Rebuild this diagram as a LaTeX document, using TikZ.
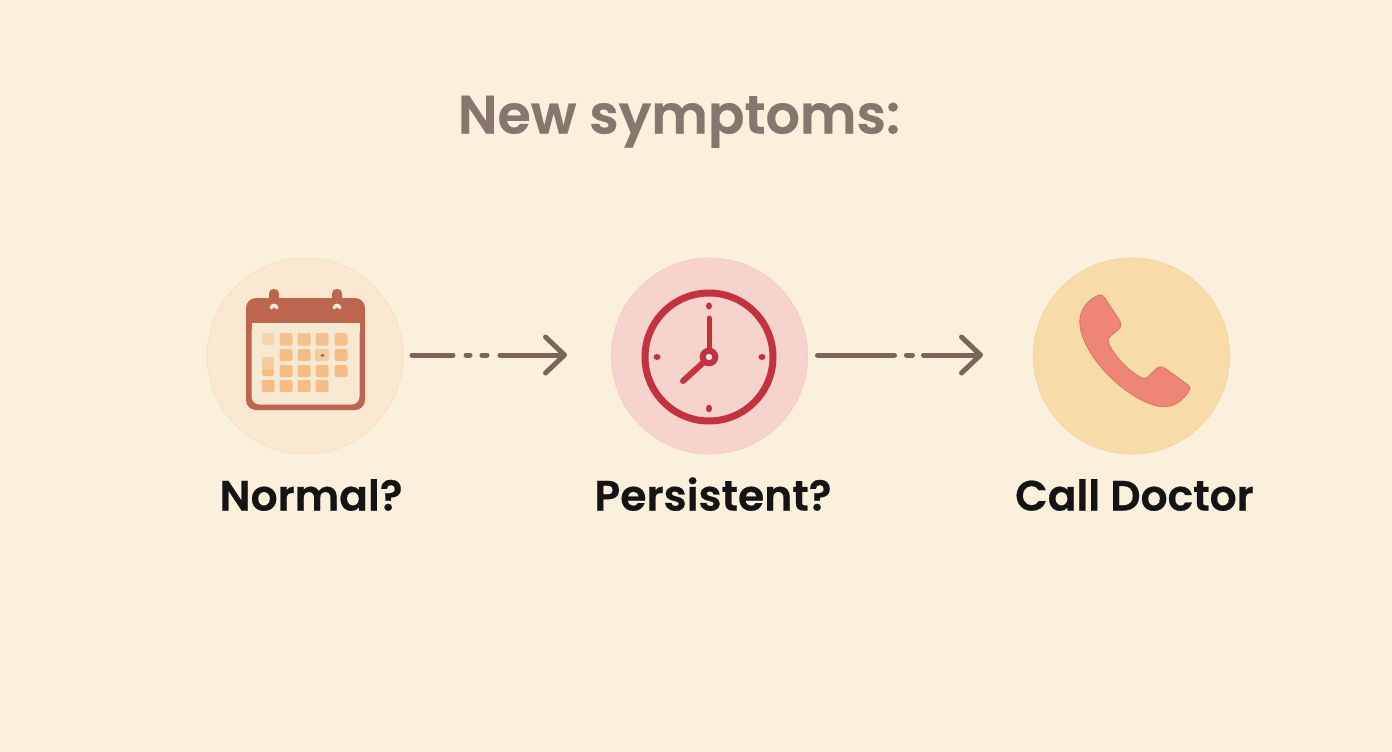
\documentclass[tikz,border=0pt]{standalone}
\usepackage{fontspec}
\setmainfont{Poppins}
\newfontfamily\semifont[FakeBold=0.5]{Poppins SemiBold}
\usetikzlibrary{arrows.meta}
\definecolor{bgc}{HTML}{FAF0DB}
\definecolor{cA}{HTML}{F9E8CF}
\definecolor{cAe}{HTML}{F6E3C6}
\definecolor{cB}{HTML}{F6D3CC}
\definecolor{cBe}{HTML}{F3CFC4}
\definecolor{cC}{HTML}{F7DBA8}
\definecolor{cCe}{HTML}{F4D6A0}
\definecolor{cal}{HTML}{BC6650}
\definecolor{calin}{HTML}{F7E8D2}
\definecolor{cell}{HTML}{F4BD85}
\definecolor{clk}{HTML}{C2323F}
\definecolor{arr}{HTML}{7A6558}
\definecolor{ph}{HTML}{EE8576}
\definecolor{phe}{HTML}{DC7565}
\definecolor{ttl}{HTML}{86766E}
\definecolor{lbl}{HTML}{141414}
\tikzset{
  disc/.style={circle,minimum size=196pt,inner sep=0pt,line width=1pt},
  label text/.style={anchor=base,text=lbl,font=\semifont\fontsize{42.4}{48}\selectfont},
  title text/.style={anchor=base,text=ttl,font=\semifont\fontsize{54}{60}\selectfont},
  connector/.style={draw=arr,line width=5pt,line cap=round,
    -{Straight Barb[length=19pt,width=36pt,line width=5pt,round]}},
  cellbox/.style={fill=cell,rounded corners=2pt},
  clockline/.style={draw=clk,line cap=round},
}
\begin{document}
\begin{tikzpicture}[x=1pt,y=-1pt]
\useasboundingbox (0,0) rectangle (1392,752);
\fill[bgc] (0,0) rectangle (1392,752);
% discs
\node[disc,fill=cA,draw=cAe] (c1) at (305,356) {};
\node[disc,fill=cB,draw=cBe] (c2) at (709.5,356) {};
\node[disc,fill=cC,draw=cCe] (c3) at (1131.5,356) {};
% texts
\node[title text] (title) at (679,133.5) {New symptoms:};
\node[label text] (l1) at (311,510.5) {Normal?};
\node[label text] (l2) at (713,510.5) {Persistent?};
\node[label text] (l3) at (1134.5,510.5) {Call Doctor};
% calendar
\fill[cal,rounded corners=10pt] (246,298) rectangle (365,410);
\fill[calin,rounded corners=8pt] (251.5,323) -- (359.5,323) -- (359.5,404.5) -- (251.5,404.5) -- cycle;
\fill[calin] (251.5,323) rectangle (359.5,332);
\foreach \x in {274,337}{
  \fill[cal,rounded corners=4.5pt] (\x-5,289) rectangle (\x+5,312);
  \fill[calin] (\x-4.5,308) arc[start angle=180,end angle=360,radius=4.5] -- (\x+2,309.5) arc[start angle=0,end angle=-180,radius=2] -- cycle;
}
\fill[cell!45!calin,rounded corners=2pt] (262,333) rectangle (274,345);
\foreach \x in {286,304,322,341}{\fill[cell!90!calin,rounded corners=2pt] (\x-6.5,333) rectangle (\x+6.5,345.5);}
\foreach \x/\y in {286/355,304/355,341/355,286/371,304/371,322/371,341/371,268/386,286/386,304/386,322/386}{
  \fill[cellbox] (\x-6.5,\y-6) rectangle (\x+6.5,\y+6);}
\fill[cell!70!calin,rounded corners=2pt] (315,349) rectangle (329,361);
\fill[arr] (322.5,355.5) ellipse[x radius=2pt,y radius=1.2pt];
\fill[cell!65!calin,rounded corners=2pt] (262,357) rectangle (274,371);
\fill[cell,rounded corners=2pt] (262,369.5) rectangle (274,376);
% clock
\draw[clk,line width=7pt] (709,357) circle[radius=64];
\fill[clk] (709,306) ellipse[x radius=3,y radius=3.6];
\fill[clk] (709,408.5) ellipse[x radius=3,y radius=3.8];
\fill[clk] (657,357) ellipse[x radius=3.6,y radius=3];
\fill[clk] (762,357) ellipse[x radius=3.6,y radius=3];
\draw[clockline,line width=5pt] (709,318) -- (709,352);
\draw[clockline,line width=6pt] (683,381) -- (705,361);
\draw[clk,line width=6pt,fill=cB!60!white] (709,357) circle[radius=6.3];
% phone
\begin{scope}[shift={(1020,250)},x=0.3333pt,y=-0.3333pt]
\fill[ph,draw=phe,line width=.8pt,line join=round]
  (232,137) .. controls (243,133) and (249,135) .. (254,143)
  -- (298,210) .. controls (305,222) and (304,230) .. (296,238)
  -- (272,258) .. controls (264,265) and (262,272) .. (266,281)
  .. controls (285,320) and (325,362) .. (362,382)
  .. controls (371,387) and (378,386) .. (385,380)
  -- (409,356) .. controls (417,349) and (426,349) .. (435,355)
  -- (503,404) .. controls (511,410) and (512,418) .. (506,425)
  .. controls (490,448) and (470,466) .. (440,470)
  .. controls (390,475) and (310,425) .. (255,365)
  .. controls (205,310) and (175,250) .. (180,205)
  .. controls (183,175) and (205,150) .. (232,137) -- cycle;
\end{scope}
% connectors
\draw[connector,dash pattern=on 41pt off 13pt on 4pt off 12pt on 5pt off 13pt on 80pt,shorten <=8.5pt,shorten >=44pt] (c1.east |- 0,355) -- (c2.west |- 0,355);
\draw[connector,dash pattern=on 77pt off 12pt on 6pt off 11pt on 80pt,shorten <=9.5pt,shorten >=50pt] (c2.east |- 0,355) -- (c3.west |- 0,355);
\end{tikzpicture}
\end{document}
